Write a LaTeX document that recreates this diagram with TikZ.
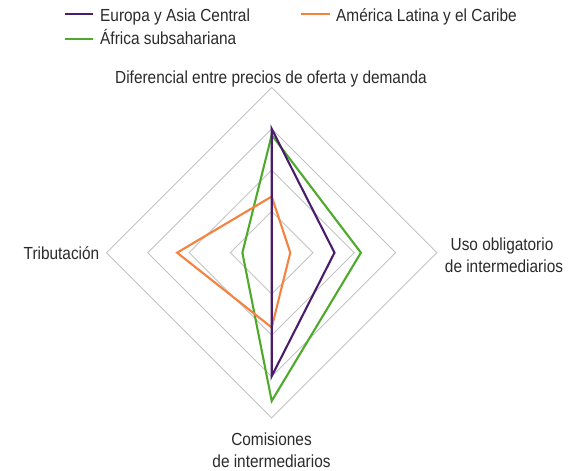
\documentclass[tikz,border=0pt]{standalone}
\usepackage{fontspec}
\setmainfont[FakeStretch=0.88]{Liberation Sans}
\definecolor{txt}{HTML}{2B2B2B}
\definecolor{gridc}{HTML}{C4C4C4}
\definecolor{eur}{HTML}{4A1C6B}
\definecolor{lat}{HTML}{F5823F}
\definecolor{afr}{HTML}{4DAA2A}
\begin{document}
\begin{tikzpicture}[x=1pt,y=-1pt,
  lbl/.style={font=\fontsize{17.5}{21}\selectfont, text=txt, inner sep=0pt},
  gridline/.style={draw=gridc, line width=0.9pt},
  series/.style={line width=2.1pt, line join=miter}]
\useasboundingbox (0,0) rectangle (571,471);
\fill[white] (0,0) rectangle (571,471);
% legend
\coordinate (le1) at (65,14);  \coordinate (le2) at (93,14);
\coordinate (ll1) at (301,14); \coordinate (ll2) at (330,14);
\coordinate (la1) at (65,39);  \coordinate (la2) at (93,39);
\draw[series, eur] (le1) -- (le2);
\draw[series, lat] (ll1) -- (ll2);
\draw[series, afr] (la1) -- (la2);
\node[lbl, anchor=base west] (leu) at (100,21) {Europa y Asia Central};
\node[lbl, anchor=base west] (lla) at (336,21) {América Latina y el Caribe};
\node[lbl, anchor=base west] (laf) at (100,45) {África subsahariana};
% axis labels
\node[lbl, anchor=base] (top) at (271,83) {Diferencial entre precios de oferta y demanda};
\node[lbl, anchor=base east] (left) at (99.5,259) {Tributación};
\node[lbl, anchor=base] (right1) at (502,250) {Uso obligatorio};
\node[lbl, anchor=base] (right2) at (504,272) {de intermediarios};
\node[lbl, anchor=base] (bot1) at (271.5,445) {Comisiones};
\node[lbl, anchor=base] (bot2) at (271.5,467) {de intermediarios};
% radar
\begin{scope}[shift={(271.7,252.7)}]
  \foreach \r in {1,2,3,4}
    \draw[gridline] (0,-\r*41.3) -- (\r*41.3,0) -- (0,\r*41.3) -- (-\r*41.3,0) -- cycle;
  % Africa
  \coordinate (a1) at (0,-2.85*41.3); \coordinate (a2) at (2.16*41.3,0);
  \coordinate (a3) at (0,3.59*41.3);  \coordinate (a4) at (-0.71*41.3,0);
  \draw[series, afr] (a1) -- (a2) -- (a3) -- (a4) -- cycle;
  % America Latina
  \coordinate (l1) at (0,-1.36*41.3); \coordinate (l2) at (0.45*41.3,0);
  \coordinate (l3) at (0,1.81*41.3);  \coordinate (l4) at (-2.29*41.3,0);
  \draw[series, lat] (l1) -- (l2) -- (l3) -- (l4) -- cycle;
  % Europa
  \coordinate (e1) at (0,-3.0*41.3); \coordinate (e2) at (1.52*41.3,0);
  \coordinate (e3) at (0,2.99*41.3);  \coordinate (e4) at (0,0);
  \draw[series, eur] (e1) -- (e2) -- (e3) -- (e4) -- cycle;
\end{scope}
\end{tikzpicture}
\end{document}
